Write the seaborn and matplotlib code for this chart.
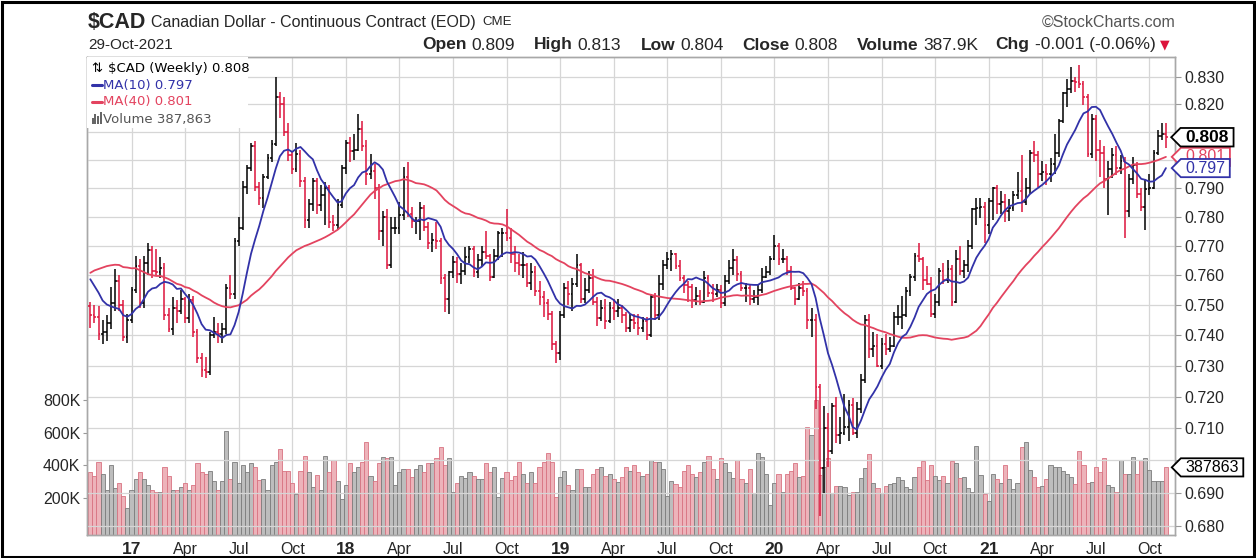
import numpy as np
import pandas as pd
import matplotlib
matplotlib.use('Agg')
import matplotlib.pyplot as plt
import seaborn as sns
from matplotlib.path import Path
from matplotlib.patches import Rectangle
from matplotlib.lines import Line2D
from matplotlib.transforms import blended_transform_factory
from matplotlib.ticker import FixedLocator, NullLocator, FuncFormatter

# weekly closes Jan 29 - Oct 21 2016 (x10000), only used to warm up the moving averages
warmup_close = [7135, 7205, 7205, 7260, 7395, 7500, 7535, 7685, 7505, 7655,
                7610, 7790, 7880, 7970, 7750, 7720, 7620, 7650, 7655, 7820,
                7795, 7665, 7750, 7645, 7735, 7600, 7660, 7580, 7680, 7790,
                7685, 7630, 7675, 7570, 7565, 7630, 7540, 7605, 7495]

# weekly bars from Oct 28 2016 to Oct 29 2021 (prices x10000)
close = [7465, 7460, 7405, 7410, 7440, 7505, 7580, 7500, 7395, 7450,
         7550, 7630, 7505, 7640, 7685, 7615, 7610, 7625, 7465, 7420,
         7490, 7480, 7520, 7455, 7515, 7410, 7325, 7285, 7280, 7400,
         7410, 7405, 7420, 7555, 7535, 7715, 7760, 7905, 7970, 8050,
         7905, 7865, 7940, 8005, 8055, 8225, 8200, 8100, 8015, 7965,
         8020, 7925, 7790, 7845, 7925, 7840, 7875, 7900, 7780, 7770,
         7840, 7970, 8060, 8030, 8035, 8110, 8050, 7950, 7960, 7900,
         7750, 7800, 7635, 7760, 7760, 7805, 7940, 7810, 7785, 7785,
         7830, 7765, 7710, 7720, 7715, 7590, 7520, 7610, 7645, 7605,
         7615, 7660, 7690, 7610, 7650, 7680, 7665, 7595, 7665, 7745,
         7745, 7725, 7670, 7640, 7635, 7635, 7575, 7610, 7545, 7525,
         7505, 7470, 7370, 7340, 7465, 7555, 7535, 7570, 7635, 7520,
         7550, 7590, 7510, 7455, 7490, 7445, 7490, 7480, 7490, 7465,
         7425, 7450, 7440, 7425, 7445, 7400, 7525, 7465, 7570, 7635,
         7655, 7670, 7630, 7590, 7565, 7560, 7515, 7530, 7510, 7590,
         7540, 7535, 7550, 7505, 7580, 7625, 7650, 7605, 7555, 7555,
         7520, 7525, 7550, 7595, 7610, 7655, 7700, 7655, 7655, 7615,
         7555, 7520, 7555, 7545, 7450, 7450, 7230, 6975, 7100, 7030,
         7170, 7080, 7085, 7105, 7175, 7085, 7160, 7255, 7450, 7355,
         7365, 7300, 7370, 7355, 7365, 7460, 7460, 7465, 7545, 7595,
         7665, 7655, 7585, 7570, 7470, 7510, 7615, 7585, 7620, 7510,
         7655, 7615, 7635, 7700, 7825, 7830, 7835, 7770, 7855, 7900,
         7845, 7850, 7820, 7830, 7875, 7890, 7850, 7900, 8025, 8015,
         7950, 7955, 7950, 7985, 8025, 8140, 8240, 8255, 8285, 8280,
         8275, 8225, 8020, 8145, 8035, 8025, 7930, 7965, 8015, 7970,
         7995, 7820, 7930, 7980, 7880, 7835, 7895, 7900, 8025, 8085,
         8090, 8080]

high = [7510, 7500, 7495, 7450, 7465, 7560, 7620, 7600, 7515, 7470,
        7560, 7665, 7655, 7665, 7710, 7700, 7690, 7660, 7640, 7490,
        7525, 7515, 7550, 7525, 7535, 7530, 7420, 7340, 7330, 7410,
        7460, 7440, 7440, 7570, 7600, 7725, 7800, 7925, 7980, 8060,
        8065, 7920, 7950, 8020, 8070, 8300, 8245, 8225, 8130, 8030,
        8060, 8035, 7940, 7860, 7935, 7935, 7910, 7920, 7910, 7805,
        7860, 7980, 8070, 8080, 8090, 8165, 8140, 8070, 8020, 7985,
        7915, 7820, 7825, 7800, 7800, 7850, 7975, 7990, 7835, 7800,
        7850, 7840, 7780, 7745, 7780, 7725, 7605, 7615, 7665, 7660,
        7640, 7695, 7700, 7700, 7670, 7700, 7750, 7670, 7690, 7750,
        7760, 7825, 7760, 7700, 7670, 7680, 7640, 7640, 7630, 7580,
        7545, 7520, 7480, 7380, 7480, 7575, 7580, 7590, 7670, 7640,
        7590, 7615, 7620, 7525, 7515, 7520, 7510, 7520, 7520, 7500,
        7475, 7470, 7470, 7470, 7460, 7460, 7535, 7540, 7600, 7650,
        7680, 7685, 7675, 7650, 7600, 7580, 7570, 7560, 7550, 7615,
        7600, 7570, 7570, 7565, 7600, 7650, 7690, 7665, 7615, 7575,
        7570, 7550, 7570, 7625, 7630, 7665, 7735, 7710, 7690, 7665,
        7630, 7560, 7575, 7580, 7555, 7490, 7470, 7240, 7170, 7150,
        7180, 7200, 7135, 7210, 7190, 7195, 7185, 7275, 7465, 7470,
        7410, 7405, 7390, 7405, 7395, 7475, 7500, 7530, 7560, 7605,
        7675, 7710, 7660, 7630, 7595, 7535, 7625, 7640, 7650, 7635,
        7685, 7700, 7650, 7720, 7830, 7865, 7865, 7850, 7865, 7905,
        7910, 7890, 7880, 7860, 7890, 7955, 8015, 7935, 8035, 8065,
        8030, 7995, 7985, 8005, 8090, 8145, 8245, 8290, 8335, 8300,
        8345, 8285, 8235, 8165, 8160, 8070, 8050, 7995, 8040, 8050,
        8015, 8010, 7950, 8010, 7990, 7900, 7930, 7950, 8035, 8105,
        8130, 8130]

low = [7425, 7440, 7385, 7370, 7380, 7420, 7480, 7480, 7380, 7375,
       7440, 7540, 7490, 7490, 7600, 7590, 7600, 7590, 7450, 7410,
       7400, 7440, 7470, 7440, 7440, 7395, 7310, 7265, 7260, 7270,
       7390, 7375, 7375, 7405, 7520, 7520, 7700, 7755, 7880, 7960,
       7890, 7840, 7830, 7930, 7990, 8050, 8150, 8085, 7995, 7950,
       7955, 7905, 7760, 7760, 7820, 7810, 7820, 7770, 7760, 7750,
       7755, 7830, 7950, 7990, 8000, 8030, 8030, 7910, 7930, 7860,
       7720, 7700, 7620, 7625, 7740, 7740, 7790, 7800, 7760, 7740,
       7720, 7750, 7690, 7680, 7690, 7570, 7475, 7470, 7590, 7575,
       7570, 7600, 7640, 7595, 7590, 7630, 7655, 7580, 7590, 7650,
       7660, 7715, 7640, 7610, 7600, 7590, 7560, 7550, 7530, 7500,
       7460, 7450, 7350, 7310, 7320, 7455, 7500, 7480, 7560, 7505,
       7505, 7540, 7500, 7430, 7445, 7420, 7440, 7450, 7460, 7440,
       7410, 7410, 7420, 7400, 7410, 7385, 7395, 7450, 7450, 7550,
       7620, 7615, 7620, 7580, 7540, 7510, 7490, 7500, 7500, 7505,
       7525, 7510, 7525, 7490, 7495, 7570, 7600, 7580, 7545, 7510,
       7500, 7505, 7500, 7540, 7590, 7600, 7650, 7635, 7640, 7600,
       7550, 7500, 7515, 7530, 7420, 7395, 7160, 6830, 6900, 6980,
       7020, 7055, 7050, 7080, 7060, 7080, 7070, 7150, 7245, 7325,
       7330, 7295, 7290, 7335, 7345, 7360, 7435, 7420, 7460, 7530,
       7580, 7645, 7550, 7565, 7460, 7455, 7495, 7570, 7575, 7495,
       7505, 7600, 7590, 7610, 7690, 7770, 7795, 7710, 7740, 7790,
       7810, 7810, 7780, 7785, 7820, 7860, 7815, 7840, 7880, 7990,
       7905, 7925, 7910, 7920, 7950, 8010, 8130, 8190, 8240, 8245,
       8260, 8195, 8010, 8005, 7995, 7940, 7900, 7805, 7935, 7945,
       7950, 7725, 7800, 7915, 7865, 7820, 7755, 7875, 7895, 8015,
       8070, 8040]

# weekly volume in thousands
volume_k = [361, 335, 423, 347, 249, 402, 259, 294, 212, 137,
            249, 314, 359, 314, 280, 249, 239, 239, 392, 335,
            249, 249, 269, 294, 249, 280, 412, 359, 347, 368,
            306, 249, 306, 611, 314, 423, 294, 402, 361, 412,
            388, 310, 314, 249, 402, 423, 498, 368, 368, 294,
            225, 368, 457, 359, 269, 339, 249, 457, 359, 433,
            306, 192, 280, 412, 359, 388, 423, 543, 335, 306,
            412, 453, 443, 453, 280, 359, 376, 376, 327, 376,
            402, 359, 412, 416, 443, 510, 402, 443, 239, 294,
            335, 320, 359, 335, 314, 314, 412, 359, 388, 204,
            320, 359, 310, 335, 423, 347, 294, 359, 294, 392,
            423, 478, 423, 204, 327, 368, 280, 249, 380, 380,
            269, 269, 347, 380, 388, 335, 347, 314, 300, 331,
            388, 368, 402, 359, 335, 347, 433, 423, 423, 380,
            212, 306, 284, 269, 368, 402, 347, 327, 359, 423,
            457, 380, 314, 443, 412, 359, 320, 433, 314, 294,
            380, 229, 478, 453, 347, 157, 294, 347, 239, 347,
            368, 412, 327, 335, 633, 586, 800, 341, 388, 443,
            229, 274, 274, 270, 218, 239, 239, 321, 382, 470,
            290, 259, 229, 274, 286, 294, 327, 310, 266, 253,
            327, 392, 429, 310, 402, 335, 310, 335, 294, 427,
            413, 321, 327, 259, 239, 519, 341, 225, 184, 347,
            315, 290, 402, 315, 253, 294, 511, 545, 372, 331,
            270, 274, 315, 402, 388, 388, 368, 347, 331, 286,
            490, 402, 294, 300, 388, 362, 443, 280, 270, 239,
            433, 347, 347, 453, 347, 433, 443, 372, 306, 306,
            306, 387.863]

# first bar of each quarter, and its label
quarter_bars = [10, 23, 36, 49, 62, 75, 88, 101, 114, 127,
                140, 153, 166, 179, 192, 205, 218, 231, 244, 257]
quarter_labels = ['17', 'Apr', 'Jul', 'Oct', '18', 'Apr', 'Jul', 'Oct', '19', 'Apr',
                  'Jul', 'Oct', '20', 'Apr', 'Jul', 'Oct', '21', 'Apr', 'Jul', 'Oct']
year_labels = ['17', '18', '19', '20', '21']

price_ticks = [0.68, 0.69, 0.70, 0.71, 0.72, 0.73, 0.74, 0.75,
               0.76, 0.77, 0.78, 0.79, 0.80, 0.81, 0.82, 0.83]
# these tick labels sit under the value tags on the right
covered_ticks = ['0.700', '0.800', '0.810']
volume_ticks = [200000, 400000, 600000, 800000]

assert len(close) == len(high) == len(low) == len(volume_k)

df = pd.DataFrame({'week': np.arange(len(close)),
                   'close': np.array(close) / 1e4,
                   'high': np.array(high) / 1e4,
                   'low': np.array(low) / 1e4,
                   'volume': np.array(volume_k) * 1000})
all_close = pd.Series(warmup_close + close) / 1e4
n0 = len(warmup_close)
df['open'] = all_close.shift(1).iloc[n0:].values
df['ma10'] = all_close.rolling(10).mean().iloc[n0:].values
df['ma40'] = all_close.rolling(40).mean().iloc[n0:].values
df['down'] = df['close'] < df['open']

sns.set_style('white')
plt.rcParams['font.family'] = ['Liberation Sans', 'DejaVu Sans']

BAR_RED = '#dc143c'
MA10_BLUE = '#3232a8'
MA40_RED = '#e3435f'
GRID = '#d6d6d6'

fig = plt.figure(figsize=(12.56, 5.58), dpi=100)
ax_v = fig.add_axes([0.0695, 0.0412, 0.866, 0.8566])
ax = ax_v.twinx()

# volume bars (behind)
vmin, vmax = -26300, 2900800
vfill = np.where(df['down'], '#edb3ba', '#bdbdbd')
vedge = np.where(df['down'], '#d97382', '#7c7c7c')
ax_v.bar(df['week'], df['volume'] - vmin, bottom=vmin, width=1.0,
         color=vfill, edgecolor=vedge, linewidth=0.6, zorder=2)
ax_v.set_ylim(vmin, vmax)
ax_v.set_yticks(volume_ticks)
ax_v.set_yticklabels([f'{v // 1000}K' for v in volume_ticks])
ax_v.tick_params(axis='y', labelsize=11.5, length=3, pad=2, color='#999999')
ax_v.set_xticks(quarter_bars)
ax_v.set_xticklabels(quarter_labels)
ax_v.tick_params(axis='x', labelsize=11.5, length=0, pad=5)
for t in ax_v.get_xticklabels():
    if t.get_text() in year_labels:
        t.set_fontweight('bold')
        t.set_fontsize(12.5)
ax_v.grid(axis='x', color=GRID, lw=0.9)
ax_v.set_axisbelow(True)

# price bars
pc = np.where(df['down'], BAR_RED, 'black')
ax.vlines(df['week'], df['low'], df['high'], colors=pc, lw=1.1, zorder=3)
ax.hlines(df['open'], df['week'] - 0.45, df['week'], colors=pc, lw=1.1, zorder=3)
ax.hlines(df['close'], df['week'], df['week'] + 0.45, colors=pc, lw=1.1, zorder=3)
sns.lineplot(data=df, x='week', y='ma40', ax=ax, color=MA40_RED, lw=1.3, zorder=4, legend=False)
sns.lineplot(data=df, x='week', y='ma10', ax=ax, color=MA10_BLUE, lw=1.3, zorder=4, legend=False)
ax.set_yscale('log')
ax.set_ylim(0.67714, 0.8373)
ax.yaxis.set_major_locator(FixedLocator(price_ticks))
ax.yaxis.set_minor_locator(NullLocator())
ax.yaxis.set_major_formatter(FuncFormatter(
    lambda v, p: '' if f'{v:.3f}' in covered_ticks else f'{v:.3f}'))
ax.tick_params(axis='y', labelsize=11.5, length=4, pad=3, color='#999999')
ax.grid(axis='y', color=GRID, lw=0.9)
ax.set_axisbelow(True)
ax.set_xlim(-0.73, 263.2)
ax.set_xlabel('')
ax.set_ylabel('')
ax_v.set_xlabel('')
for a in (ax, ax_v):
    for s in a.spines.values():
        s.set_color('#a8a8a8')
        s.set_linewidth(1.0)

last = df.iloc[-1]

# legend block, top left
ax.add_patch(Rectangle((0, 0.851), 0.148, 0.149, transform=ax.transAxes,
                       fc='white', ec='none', zorder=5))
leg_font = dict(family=['DejaVu Sans'], fontsize=9.5, va='center', ha='left',
                transform=ax.transAxes, zorder=6)
ax.text(0.004, 0.977, '\u21c5', color='black', **leg_font)
ax.text(0.019, 0.977, f"$CAD (Weekly) {last['close']:.3f}", color='black', **leg_font)
ax.add_line(Line2D([0.004, 0.0135], [0.941, 0.941], transform=ax.transAxes,
                   color=MA10_BLUE, lw=2.2, zorder=6))
ax.text(0.0145, 0.941, f"MA(10) {last['ma10']:.3f}", color=MA10_BLUE, **leg_font)
ax.add_line(Line2D([0.004, 0.0135], [0.906, 0.906], transform=ax.transAxes,
                   color=MA40_RED, lw=2.2, zorder=6))
ax.text(0.0145, 0.906, f"MA(40) {last['ma40']:.3f}", color=MA40_RED, **leg_font)
for k, h in enumerate([0.014, 0.022, 0.018, 0.026]):
    ax.add_patch(Rectangle((0.004 + k * 0.0025, 0.859), 0.0019, h, transform=ax.transAxes,
                           fc='#666666', ec='none', zorder=6))
ax.text(0.0145, 0.870, f"Volume {int(round(last['volume'])):,}", color='#555555', **leg_font)


# value tags on the right axis
def tag_shape(x0, y0, width, height, mutation_size):
    px, py = 0.28 * mutation_size, 0.1 * mutation_size
    x0, x1 = x0 - px, x0 + width + px
    y0, y1 = y0 - py, y0 + height + py
    tip = (y1 - y0) / 2
    return Path([(x0, y0), (x1, y0), (x1, y1), (x0, y1),
                 (x0 - tip, (y0 + y1) / 2), (x0, y0)], closed=True)


tag_trans = blended_transform_factory(ax.transAxes, ax.transData)


def tag(yval, text, color, weight='normal', size=11.5, z=8, trans=tag_trans):
    ax.text(1.0095, yval, text, transform=trans, va='center', ha='left',
            fontsize=size, fontweight=weight, color=color, clip_on=False, zorder=z,
            bbox=dict(boxstyle=tag_shape, fc='white', ec=color, lw=1.3))


tag(last['ma40'], f"{last['ma40']:.3f}", MA40_RED, z=7)
tag(last['close'], f"{last['close']:.3f}", 'black', weight='bold', size=12.5, z=9)
tag(last['ma10'], f"{last['ma10']:.3f}", MA10_BLUE, z=8)
vol_frac = (last['volume'] - vmin) / (vmax - vmin)
tag(vol_frac, f"{int(round(last['volume']))}", 'black', z=8, trans=ax.transAxes)

# header texts
renderer = fig.canvas.get_renderer()
FW = 1256.0


def chain(pieces, x_px, y_frac, align='left'):
    arts = []
    for txt, kw, gap in pieces:
        t = fig.text(0, y_frac, txt, va='center', ha='left', **kw)
        arts.append((t, gap))
    widths = [t.get_window_extent(renderer).width for t, g in arts]
    total = sum(widths) + sum(g for t, g in arts[:-1])
    cur = x_px - total if align == 'right' else x_px
    for (t, g), w in zip(arts, widths):
        t.set_x(cur / FW)
        cur += w + g


chain([('$CAD', dict(fontsize=15.5, fontweight='bold',
                     family=['Liberation Sans Narrow', 'Liberation Sans']), 5),
       ('Canadian Dollar - Continuous Contract (EOD)', dict(fontsize=11.5), 6),
       ('CME', dict(fontsize=9.5), 0)], 88, 1 - 22 / 558)
fig.text(1175 / FW, 1 - 22 / 558, '\u00a9StockCharts.com', fontsize=11.5,
         color='#555555', ha='right', va='center')
fig.text(88 / FW, 1 - 45 / 558, '29-Oct-2021', fontsize=11, ha='left', va='center')

B = dict(fontsize=12.5, fontweight='bold')
N = dict(fontsize=12.5)
chain([('Open', B, 5), ('0.809', N, 19), ('High', B, 5), ('0.813', N, 19),
       ('Low', B, 5), ('0.804', N, 19), ('Close', B, 5), ('0.808', N, 19),
       ('Volume', B, 5), ('387.9K', N, 17), ('Chg', B, 5), ('-0.001 (-0.06%)', N, 5),
       ('\u25bc', dict(fontsize=9, color=BAR_RED, family=['DejaVu Sans']), 0)],
      1170, 1 - 45 / 558, align='right')

fig.add_artist(Rectangle((0.0012, 0.002), 0.9976, 0.995, transform=fig.transFigure,
                         fill=False, ec='black', lw=2.2))

fig.savefig('out.png', dpi=100, facecolor='white')
